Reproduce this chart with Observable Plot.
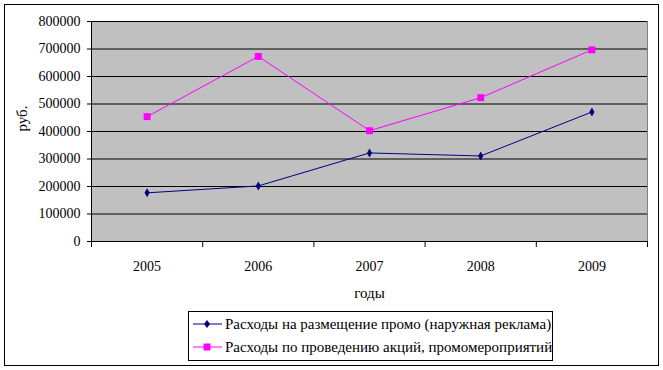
<!DOCTYPE html>
<html>
<head>
<meta charset="utf-8">
<script src="https://cdn.jsdelivr.net/npm/d3@7"></script>
<script src="https://cdn.jsdelivr.net/npm/@observablehq/plot@0.6"></script>
<style>
  html, body { margin: 0; padding: 0; background: #fff; }
  #wrap { position: relative; width: 663px; height: 370px; font-family: "Liberation Serif", "Times New Roman", serif; }
  #border { position: absolute; left: 4px; top: 4px; width: 655px; height: 362px; border: 1px solid #000; box-sizing: border-box; pointer-events: none; }
  #chart { position: absolute; left: 0; top: 0; }
  #legend { position: absolute; left: 188px; top: 311px; width: 365px; height: 50px; border: 1px solid #000; box-sizing: border-box; background: #fff; font-size: 15px; color: #000; }
  .row { position: absolute; left: 4px; height: 20px; display: flex; align-items: center; white-space: nowrap; }
  .row svg { margin-right: 3px; }
</style>
</head>
<body>
<div id="wrap">
  <div id="chart"></div>
  <div id="legend"></div>
  <div id="border"></div>
</div>
<script>
const years = [2005, 2006, 2007, 2008, 2009];
const seriesNames = [
  "Расходы на размещение промо (наружная реклама)",
  "Расходы по проведению акций, промомероприятий"
];
const outdoorPromo = [177000, 202000, 322000, 311000, 471000];
const eventPromo = [454000, 673000, 403000, 523000, 697000];
const yTicks = [0, 100000, 200000, 300000, 400000, 500000, 600000, 700000, 800000];
const colors = ["#000080", "#FF00FF"];
const symbols = ["diamond", "square"];
const xTitle = "годы";
const yTitle = "руб.";

const data = [
  ...years.map((y, i) => ({year: y, value: outdoorPromo[i], series: seriesNames[0]})),
  ...years.map((y, i) => ({year: y, value: eventPromo[i], series: seriesNames[1]}))
];
const bounds = [...years.map(y => y - 0.5), years[years.length - 1] + 0.5];

const chart = Plot.plot({
  width: 663,
  height: 300,
  marginLeft: 91,
  marginRight: 16,
  marginTop: 21,
  marginBottom: 59,
  style: {fontFamily: "'Liberation Serif', 'Times New Roman', serif", fontSize: "14px", color: "#000", background: "transparent", overflow: "visible"},
  x: {type: "linear", domain: [bounds[0], bounds[bounds.length - 1]], axis: null},
  y: {domain: [0, 800000], axis: null},
  color: {domain: seriesNames, range: colors},
  symbol: {domain: seriesNames, range: symbols},
  marks: [
    Plot.frame({fill: "#C0C0C0", stroke: "#808080"}),
    Plot.ruleY(yTicks, {stroke: "#000", strokeWidth: 1}),
    Plot.ruleX([bounds[0]], {stroke: "#000"}),
    Plot.axisY(yTicks, {tickSize: 4, tickPadding: 7, tickFormat: d3.format("d"), stroke: "#000", label: null}),
    Plot.axisX(bounds, {tickSize: 6, tickFormat: () => "", stroke: "#000", label: null}),
    Plot.axisX(years, {tickSize: 0, tickPadding: 20, tickFormat: d3.format("d"), label: null}),
    Plot.text([xTitle], {frameAnchor: "bottom", dy: 56, fontSize: 15}),
    Plot.text([yTitle], {frameAnchor: "left", dx: -69, rotate: -90, fontSize: 15}),
    Plot.line(data, {x: "year", y: "value", z: "series", stroke: "series", strokeWidth: 1}),
    Plot.dot(data, {x: "year", y: "value", fill: "series", symbol: "series", r: 2.7, stroke: null})
  ]
});
chart.querySelectorAll("[aria-label='dot'] path").forEach(p => {
  if (p.getAttribute("fill") === colors[1]) {
    p.setAttribute("transform", p.getAttribute("transform") + " scale(1.45)");
  }
});
document.getElementById("chart").appendChild(chart);

const legend = document.getElementById("legend");
seriesNames.forEach((name, i) => {
  const row = document.createElement("div");
  row.className = "row";
  row.style.top = (2 + i * 23) + "px";
  const marker = symbols[i] === "diamond"
    ? `<path d="M14,6 L17,10 L14,14 L11,10 Z" fill="${colors[i]}"/>`
    : `<rect x="10.5" y="6.5" width="7" height="7" fill="${colors[i]}"/>`;
  row.innerHTML = `<svg width="29" height="20"><line x1="0" y1="10" x2="29" y2="10" stroke="${colors[i]}" stroke-width="1"/>${marker}</svg><span>${name}</span>`;
  legend.appendChild(row);
});
</script>
</body>
</html>
